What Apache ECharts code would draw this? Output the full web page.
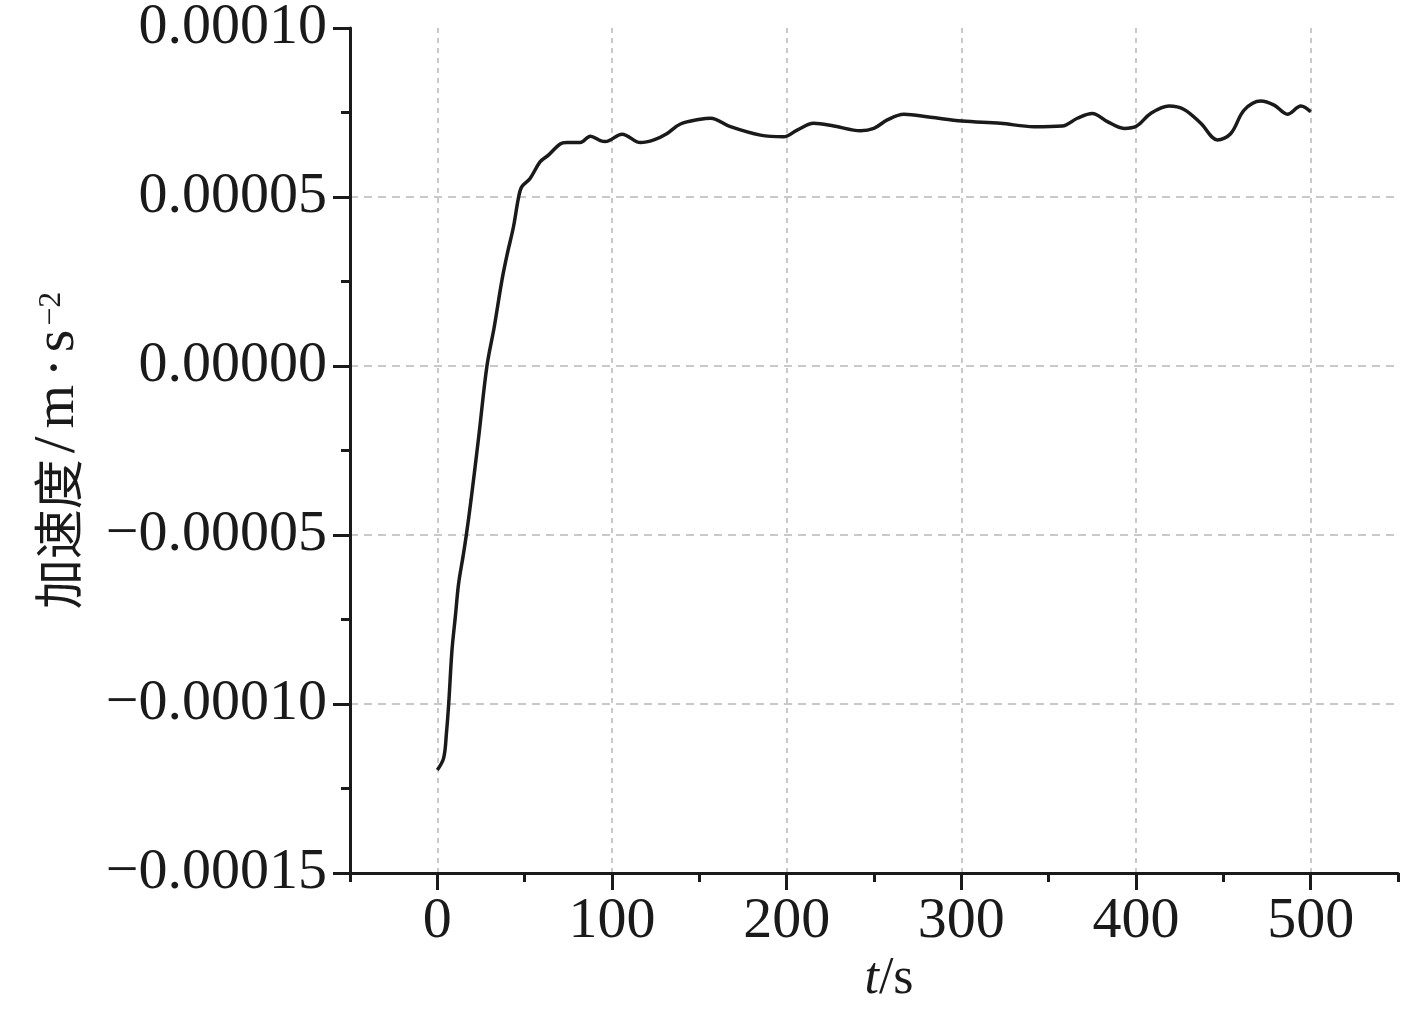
<!DOCTYPE html>
<html>
<head>
<meta charset="utf-8">
<script src="https://cdn.jsdelivr.net/npm/echarts@6/dist/echarts.min.js"></script>
<style>
  html, body { margin: 0; padding: 0; background: #fff; }
  #main { width: 1417px; height: 1009px; }
</style>
</head>
<body>
<div id="main"></div>
<script>
// time in s
const timeS = [
  0, 3.6, 5.2, 6.5, 8.4, 10.3, 12.2, 14.7, 16.6, 19.3, 23.7, 28.4, 32.6, 37, 40.1, 43.6, 46.4, 48.3,
  53.1, 58.8, 63.6, 70.3, 74.1, 81.8, 87.6, 93.3, 96.2, 105.8, 116.3, 124, 131.6, 139.2, 150.6, 156.4,
  167.8, 185, 198.3, 206, 215.5, 227, 242.3, 249.9, 257.6, 267.1, 282.4, 300.5, 322.4, 341.5, 357.8,
  366.4, 375, 383.6, 393.2, 400.4, 408.4, 418.9, 427.5, 437.1, 446.6, 454.3, 461.9, 471.4, 479.1,
  486.7, 494.4, 500
];
// acceleration in m/s^2
const accel = [
  -0.0001195, -0.0001160, -0.0001087, -0.0001000, -0.0000840, -0.0000742, -0.0000643, -0.0000564,
  -0.0000500, -0.0000396, -0.0000209, 0.0000000, 0.0000116, 0.0000254, 0.0000333, 0.0000412,
  0.0000496, 0.0000530, 0.0000555, 0.0000604, 0.0000624, 0.0000657, 0.0000661, 0.0000661, 0.0000680,
  0.0000667, 0.0000664, 0.0000686, 0.0000661, 0.0000669, 0.0000688, 0.0000716, 0.0000730, 0.0000733,
  0.0000708, 0.0000683, 0.0000678, 0.0000698, 0.0000718, 0.0000710, 0.0000696, 0.0000703, 0.0000728,
  0.0000745, 0.0000736, 0.0000725, 0.0000718, 0.0000708, 0.0000710, 0.0000733, 0.0000747, 0.0000723,
  0.0000703, 0.0000710, 0.0000747, 0.0000769, 0.0000759, 0.0000718, 0.0000669, 0.0000688, 0.0000757,
  0.0000784, 0.0000772, 0.0000745, 0.0000769, 0.0000752
];
const xTicks = [0, 100, 200, 300, 400, 500];
const yMin = -0.00015;
const yMax = 0.0001;
const yStep = 0.00005;

const SERIF = 'Liberation Serif, Times New Roman, serif';
const INK = '#1a1a1a';
const GRID = '#b8b8b8';

function fmtY(v) {
  if (Math.abs(v) < 1e-12) v = 0;
  const s = Math.abs(v).toFixed(5);
  return v < 0 ? '\u2212' + s : s;
}

const chart = echarts.init(document.getElementById('main'), null, { renderer: 'canvas' });
chart.setOption({
  animation: false,
  backgroundColor: '#fff',
  grid: { left: 350, right: 19, top: 28, bottom: 136, outerBoundsMode: 'none' },
  xAxis: [
    {
      type: 'value', min: -50, max: 550, interval: 50, position: 'bottom',
      axisLine: { show: true, onZero: false, lineStyle: { color: INK, width: 3 } },
      axisTick: { show: true, length: 9, lineStyle: { color: INK, width: 3 } },
      axisLabel: { show: false },
      splitLine: { show: false },
      name: '{i|t}{n|/s}', nameLocation: 'middle', nameGap: 80,
      nameTextStyle: {
        padding: [0, 0, 0, 30],
        rich: {
          i: { fontFamily: SERIF, fontStyle: 'italic', fontSize: 52, color: INK },
          n: { fontFamily: SERIF, fontSize: 52, color: INK }
        }
      }
    },
    {
      type: 'value', min: -50, max: 550, position: 'bottom',
      axisLine: { show: false, onZero: false },
      axisTick: { show: true, customValues: xTicks, length: 17, lineStyle: { color: INK, width: 3 } },
      axisLabel: { show: true, customValues: xTicks, margin: 20, fontFamily: SERIF, fontSize: 58, color: INK },
      splitLine: { show: true, showMinLine: true, showMaxLine: true, lineStyle: { color: GRID, width: 1.5, type: [5, 5] } }
    }
  ],
  yAxis: {
    type: 'value', min: yMin, max: yMax, interval: yStep,
    axisLine: { show: true, onZero: false, lineStyle: { color: INK, width: 3 } },
    axisTick: { show: true, length: 17, lineStyle: { color: INK, width: 3 } },
    minorTick: { show: true, splitNumber: 2, length: 9, lineStyle: { color: INK, width: 3 } },
    axisLabel: { margin: 23, fontFamily: SERIF, fontSize: 58, color: INK, formatter: fmtY },
    splitLine: { show: true, showMinLine: false, showMaxLine: false, lineStyle: { color: GRID, width: 1.5, type: [8, 6] } },
    name: '{a|加速度}{sl|/}{m|m}{d|·}{s|s}{c|\u22122}', nameLocation: 'middle', nameRotate: 90, nameGap: 262,
    nameTextStyle: {
      rich: {
        a: { fontFamily: 'Noto Sans CJK SC', fontSize: 50, color: INK, lineHeight: 60 },
        sl: { fontFamily: SERIF, fontSize: 60, color: INK, lineHeight: 60, padding: [0, 8, 0, 6] },
        m: { fontFamily: SERIF, fontSize: 56, color: INK, lineHeight: 60 },
        d: { fontFamily: SERIF, fontSize: 56, color: INK, lineHeight: 60, padding: [0, 6, 0, 8] },
        s: { fontFamily: SERIF, fontSize: 58, color: INK, lineHeight: 60 },
        c: { fontFamily: SERIF, fontSize: 32, color: INK, lineHeight: 40, verticalAlign: 'top', padding: [8, 0, 0, 4] }
      }
    }
  },
  series: [{
    type: 'line',
    xAxisIndex: 0,
    data: timeS.map((t, i) => [t, accel[i]]),
    smooth: 0.35,
    symbol: 'none',
    lineStyle: { color: INK, width: 3.5 }
  }]
});
</script>
</body>
</html>
